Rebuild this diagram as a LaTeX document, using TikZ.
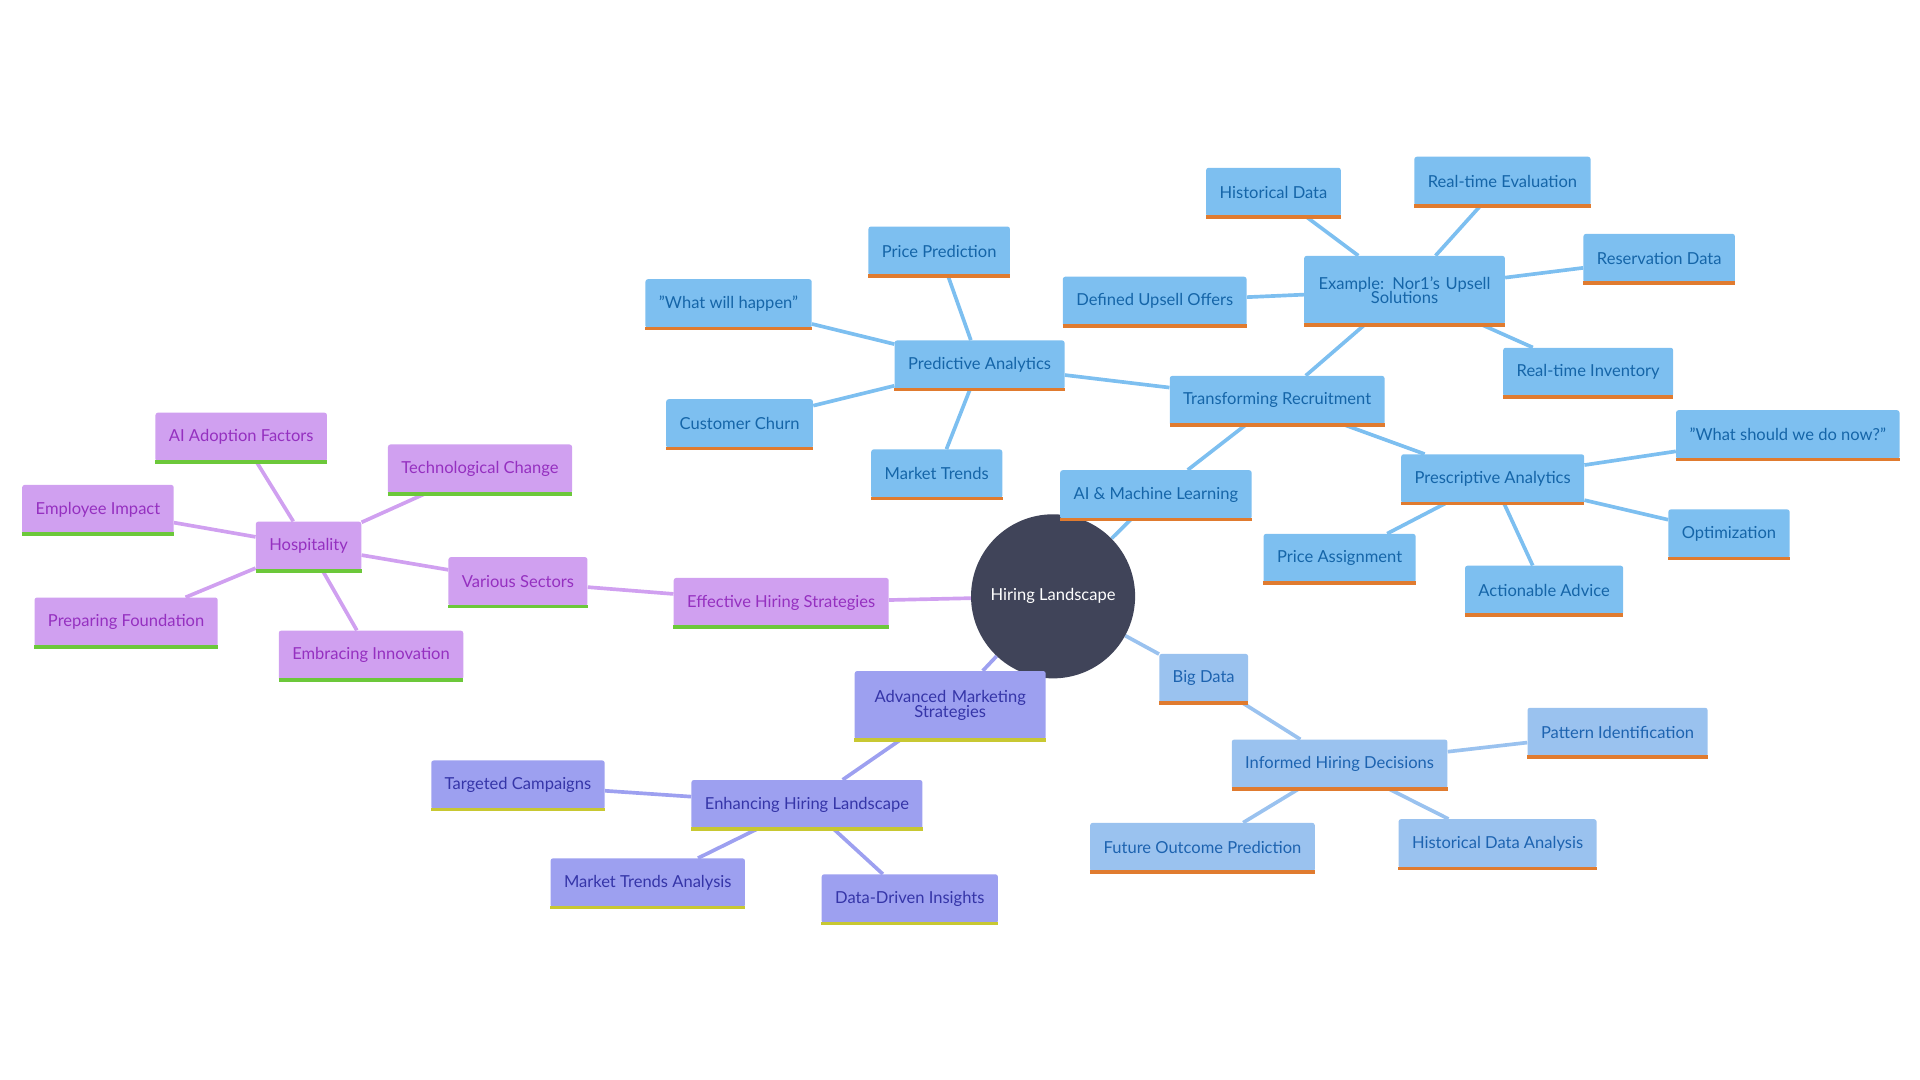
\documentclass[tikz,border=0pt]{standalone}
\usepackage{fontspec}
\setmainfont{Lato}
\usetikzlibrary{backgrounds}
\definecolor{cA}{HTML}{7DBFF0}\definecolor{tA}{HTML}{1565A8}\definecolor{uA}{HTML}{E07B2F}
\definecolor{cB}{HTML}{9AC2EF}\definecolor{tB}{HTML}{1D63B0}
\definecolor{cC}{HTML}{9DA0F0}\definecolor{tC}{HTML}{3535A8}\definecolor{uC}{HTML}{C8C832}
\definecolor{cD}{HTML}{D0A0F0}\definecolor{tD}{HTML}{9530C0}\definecolor{uD}{HTML}{6CC83A}
\definecolor{hub}{HTML}{404459}
\begin{document}
\begin{tikzpicture}[x=1pt,y=-1pt,
 base/.style={rectangle,rounded corners=2pt,minimum height=40pt,inner xsep=11pt,font=\fontsize{13.5}{15}\selectfont,align=center},
 bA/.style={base,fill=cA,text=tA},
 bB/.style={base,fill=cB,text=tB},
 bC/.style={base,fill=cC,text=tC},
 bD/.style={base,fill=cD,text=tD},
 eA/.style={draw=cA,line width=3pt},
 eB/.style={draw=cB,line width=3pt},
 eC/.style={draw=cC,line width=3pt},
 eD/.style={draw=cD,line width=3pt}]
\useasboundingbox (0,0) rectangle (1568,882);
\node[circle,fill=hub,text=white,minimum size=134pt,font=\fontsize{13.5}{15}\selectfont] (hub) at (860,487) {Hiring Landscape};
% blue
\node[bA] (tr) at (1043,327) {Transforming Recruitment};
\node[bA] (ai) at (944,404) {AI \& Machine Learning};
\node[bA] (pa) at (800,298) {Predictive Analytics};
\node[bA] (pp) at (767,205) {Price Prediction};
\node[bA] (wh) at (595,248) {"What will happen"};
\node[bA] (cc) at (604,346) {Customer Churn};
\node[bA] (mt) at (765,387) {Market Trends};
\node[bA,minimum height=56pt,text width=142pt] (ex) at (1147,237) {Example: Nor1's Upsell\\[-3pt]Solutions};
\node[bA] (hd) at (1040,157) {Historical Data};
\node[bA] (re) at (1227,148) {Real-time Evaluation};
\node[bA] (rd) at (1355,211) {Reservation Data};
\node[bA] (du) at (943,246) {Defined Upsell Offers};
\node[bA] (ri) at (1297,304) {Real-time Inventory};
\node[bA] (pr) at (1219,391) {Prescriptive Analytics};
\node[bA] (ws) at (1460,355) {"What should we do now?"};
\node[bA] (op) at (1412,436) {Optimization};
\node[bA] (pas) at (1094,456) {Price Assignment};
\node[bA] (aa) at (1261,482) {Actionable Advice};
% light blue
\node[bB] (bd) at (983,554) {Big Data};
\node[bB] (ih) at (1094,624) {Informed Hiring Decisions};
\node[bB] (pi) at (1321,598) {Pattern Identification};
\node[bB] (fo) at (982,692) {Future Outcome Prediction};
\node[bB] (hda) at (1223,689) {Historical Data Analysis};
% violet
\node[bC,minimum height=56pt,text width=134pt] (am) at (776,576) {Advanced Marketing\\[-3pt]Strategies};
\node[bC] (eh) at (659,657) {Enhancing Hiring Landscape};
\node[bC] (tc) at (423,641) {Targeted Campaigns};
\node[bC] (mta) at (529,721) {Market Trends Analysis};
\node[bC] (dd) at (743,734) {Data-Driven Insights};
% purple
\node[bD] (ehs) at (638,492) {Effective Hiring Strategies};
\node[bD] (vs) at (423,475) {Various Sectors};
\node[bD] (ho) at (252,446) {Hospitality};
\node[bD] (af) at (197,357) {AI Adoption Factors};
\node[bD] (tch) at (392,383) {Technological Change};
\node[bD] (ei) at (80,416) {Employee Impact};
\node[bD] (pf) at (103,508) {Preparing Foundation};
\node[bD] (emi) at (303,535) {Embracing Innovation};
% underlines
\foreach \n in {tr,ai,pa,pp,wh,cc,mt,ex,hd,re,rd,du,ri,pr,ws,op,pas,aa,bd,ih,pi,fo,hda}
  \draw[uA,line width=3pt] (\n.south west) -- (\n.south east);
\foreach \n in {am,eh,tc,mta,dd}
  \draw[uC,line width=3pt] (\n.south west) -- (\n.south east);
\foreach \n in {ehs,vs,ho,af,tch,ei,pf,emi}
  \draw[uD,line width=3pt] (\n.south west) -- (\n.south east);
\begin{scope}[on background layer]
\draw[eA] (hub) -- (ai);
\draw[eA] (ai) -- (tr);
\draw[eA] (tr) -- (pa);
\draw[eA] (tr) -- (ex);
\draw[eA] (tr) -- (pr);
\draw[eA] (pa) -- (pp);
\draw[eA] (pa) -- (wh);
\draw[eA] (pa) -- (cc);
\draw[eA] (pa) -- (mt);
\draw[eA] (ex) -- (hd);
\draw[eA] (ex) -- (re);
\draw[eA] (ex) -- (rd);
\draw[eA] (ex) -- (du);
\draw[eA] (ex) -- (ri);
\draw[eA] (pr) -- (ws);
\draw[eA] (pr) -- (op);
\draw[eA] (pr) -- (pas);
\draw[eA] (pr) -- (aa);
\draw[eB] (hub) -- (bd);
\draw[eB] (bd) -- (ih);
\draw[eB] (ih) -- (pi);
\draw[eB] (ih) -- (fo);
\draw[eB] (ih) -- (hda);
\draw[eC] (hub) -- (am);
\draw[eC] (am) -- (eh);
\draw[eC] (eh) -- (tc);
\draw[eC] (eh) -- (mta);
\draw[eC] (eh) -- (dd);
\draw[eD] (hub) -- (ehs);
\draw[eD] (ehs) -- (vs);
\draw[eD] (vs) -- (ho);
\draw[eD] (ho) -- (af);
\draw[eD] (ho) -- (tch);
\draw[eD] (ho) -- (ei);
\draw[eD] (ho) -- (pf);
\draw[eD] (ho) -- (emi);
\end{scope}
\end{tikzpicture}
\end{document}
